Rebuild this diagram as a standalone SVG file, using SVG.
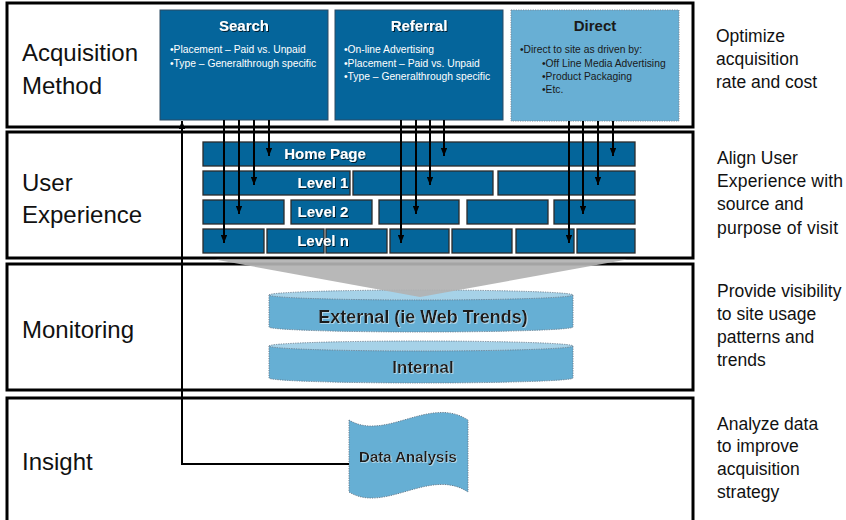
<svg xmlns="http://www.w3.org/2000/svg" width="846" height="520" viewBox="0 0 846 520">
<defs>
<style>
.band{fill:#fff;stroke:#000;stroke-width:3}
.dk{fill:#05659b;stroke:#2d4a63;stroke-width:1}
.lt{fill:#68afd4;stroke:#7a8a99;stroke-width:1;stroke-dasharray:1.2 1.2}
.blk{fill:#04659a;stroke:#2b2b2b;stroke-width:1.3}
.lbl{font-family:"Liberation Sans",Arial,sans-serif;font-size:24px;fill:#111}
.side{font-family:"Liberation Sans",Arial,sans-serif;font-size:17.5px;fill:#111}
.ttl{font-family:"Liberation Sans",Arial,sans-serif;font-size:15px;font-weight:bold;text-anchor:middle}
.bul{font-family:"Liberation Sans",Arial,sans-serif;font-size:10.3px}
.w{fill:#fff}
.d{fill:#1a1a1a}
.lev{font-family:"Liberation Sans",Arial,sans-serif;font-size:15px;font-weight:bold;fill:#fff;text-anchor:middle}
.cyl{font-family:"Liberation Sans",Arial,sans-serif;font-size:17px;font-weight:bold;fill:#1a1a1a;text-anchor:middle}
.cbody{fill:#66afd4;stroke:#6d7f8f;stroke-width:1;stroke-dasharray:1.2 1.2}
.ctop{fill:#a6d2e8;stroke:#6d7f8f;stroke-width:1;stroke-dasharray:1.2 1.2}
.con{fill:none;stroke:#000;stroke-width:2}
</style>
<filter id="sh" x="-10%" y="-30%" width="130%" height="160%">
<feDropShadow dx="1" dy="1" stdDeviation="0.6" flood-color="#000" flood-opacity="0.7"/>
</filter>
<filter id="shl" x="-10%" y="-30%" width="130%" height="160%">
<feDropShadow dx="0.8" dy="0.8" stdDeviation="0.5" flood-color="#fff" flood-opacity="0.6"/>
</filter>
<marker id="ah" viewBox="0 0 10 8" refX="10" refY="4" markerWidth="8" markerHeight="6.4" markerUnits="userSpaceOnUse" orient="auto">
<path d="M0,0 L10,4 L0,8 z" fill="#000"/>
</marker>
</defs>

<g id="bands">
<rect class="band" x="7" y="3" width="686" height="124"/>
<rect class="band" x="7" y="132" width="686" height="126"/>
<rect class="band" x="7" y="264" width="686" height="126"/>
<rect class="band" x="7" y="398" width="686" height="130"/>
</g>

<g id="stage-labels">
<text class="lbl" x="22" y="61">Acquisition</text>
<text class="lbl" x="22" y="94">Method</text>
<text class="lbl" x="22" y="191">User</text>
<text class="lbl" x="22" y="223">Experience</text>
<text class="lbl" x="22" y="338">Monitoring</text>
<text class="lbl" x="22" y="470">Insight</text>
</g>

<g id="goals">
<text class="side" x="716" y="42">Optimize</text>
<text class="side" x="716" y="65">acquisition</text>
<text class="side" x="716" y="88">rate and cost</text>
<text class="side" x="717" y="164">Align User</text>
<text class="side" x="717" y="187" textLength="126" lengthAdjust="spacing">Experience with</text>
<text class="side" x="717" y="210">source and</text>
<text class="side" x="717" y="234" textLength="121" lengthAdjust="spacing">purpose of visit</text>
<text class="side" x="717" y="297">Provide visibility</text>
<text class="side" x="717" y="320">to site usage</text>
<text class="side" x="717" y="343">patterns and</text>
<text class="side" x="717" y="366">trends</text>
<text class="side" x="717" y="430">Analyze data</text>
<text class="side" x="717" y="452">to improve</text>
<text class="side" x="717" y="475">acquisition</text>
<text class="side" x="717" y="498">strategy</text>
</g>

<g id="search">
<rect class="dk" x="160" y="10" width="168" height="110"/>
<text class="ttl w" x="244" y="31" filter="url(#sh)">Search</text>
<text class="bul w" x="170" y="53">•Placement – Paid vs. Unpaid</text>
<text class="bul w" x="170" y="67">•Type – Generalthrough specific</text>
</g>

<g id="referral">
<rect class="dk" x="335" y="10" width="168" height="110"/>
<text class="ttl w" x="419" y="31" filter="url(#sh)">Referral</text>
<text class="bul w" x="344" y="53">•On-line Advertising</text>
<text class="bul w" x="344" y="66.5">•Placement – Paid vs. Unpaid</text>
<text class="bul w" x="344" y="80">•Type – Generalthrough specific</text>
</g>

<g id="direct">
<rect class="lt" x="511" y="10" width="168" height="111"/>
<text class="ttl d" x="595" y="31">Direct</text>
<text class="bul d" x="520" y="53">•Direct to site as driven by:</text>
<text class="bul d" x="542" y="66.5">•Off Line Media Advertising</text>
<text class="bul d" x="542" y="80">•Product Packaging</text>
<text class="bul d" x="542" y="93">•Etc.</text>
</g>

<g id="home-page">
<rect class="blk" x="203" y="142" width="432" height="24"/>
<text class="lev" x="325" y="159" filter="url(#sh)">Home Page</text>
</g>

<g id="level-1">
<rect class="blk" x="203" y="171" width="147" height="24"/>
<rect class="blk" x="353" y="171" width="140" height="24"/>
<rect class="blk" x="498" y="171" width="137" height="24"/>
<text class="lev" x="323" y="188" filter="url(#sh)">Level 1</text>
</g>

<g id="level-2">
<rect class="blk" x="203" y="200" width="81" height="24"/>
<rect class="blk" x="291" y="200" width="81" height="24"/>
<rect class="blk" x="379" y="200" width="80" height="24"/>
<rect class="blk" x="467" y="200" width="81" height="24"/>
<rect class="blk" x="554" y="200" width="81" height="24"/>
<text class="lev" x="323" y="217" filter="url(#sh)">Level 2</text>
</g>

<g id="level-n">
<rect class="blk" x="203" y="229" width="61" height="24"/>
<rect class="blk" x="267" y="229" width="57" height="24"/>
<rect class="blk" x="326" y="229" width="61" height="24"/>
<rect class="blk" x="390" y="229" width="59" height="24"/>
<rect class="blk" x="452" y="229" width="60" height="24"/>
<rect class="blk" x="516" y="229" width="58" height="24"/>
<rect class="blk" x="577" y="229" width="58" height="24"/>
<text class="lev" x="323" y="246" filter="url(#sh)">Level n</text>
</g>

<g id="external">
<path class="cbody" d="M269,295 L269,327 A152,5 0 0 0 573,327 L573,295 Z"/>
<ellipse class="ctop" cx="421" cy="295" rx="152" ry="5"/>
<text class="cyl" x="423" y="323" style="font-size:18px" filter="url(#shl)">External (ie Web Trends)</text>
</g>

<g id="funnel">
<polygon points="215,259.5 627,259.5 420,297" fill="#b2b2b2" fill-opacity="0.92"/>
</g>

<g id="internal">
<path class="cbody" d="M269,346 L269,378 A152,5 0 0 0 573,378 L573,346 Z"/>
<ellipse class="ctop" cx="421" cy="346" rx="152" ry="5"/>
<text class="cyl" x="423" y="373" filter="url(#shl)">Internal</text>
</g>

<g id="data-analysis">
<path class="cbody" d="M349,420 C385,442 430,395 468,420 L468,492 C430,467 385,514 349,492 Z"/>
<text class="cyl" x="408" y="462" style="font-size:15px" filter="url(#shl)">Data Analysis</text>
</g>

<g id="connectors">
<line class="con" x1="224" y1="120" x2="224" y2="243" marker-end="url(#ah)"/>
<line class="con" x1="239" y1="120" x2="239" y2="214" marker-end="url(#ah)"/>
<line class="con" x1="254" y1="120" x2="254" y2="185" marker-end="url(#ah)"/>
<line class="con" x1="269" y1="120" x2="269" y2="156" marker-end="url(#ah)"/>
<line class="con" x1="401" y1="120" x2="401" y2="243" marker-end="url(#ah)"/>
<line class="con" x1="416" y1="120" x2="416" y2="214" marker-end="url(#ah)"/>
<line class="con" x1="430" y1="120" x2="430" y2="185" marker-end="url(#ah)"/>
<line class="con" x1="444" y1="120" x2="444" y2="156" marker-end="url(#ah)"/>
<line class="con" x1="569" y1="121" x2="569" y2="243" marker-end="url(#ah)"/>
<line class="con" x1="583" y1="121" x2="583" y2="214" marker-end="url(#ah)"/>
<line class="con" x1="598" y1="121" x2="598" y2="185" marker-end="url(#ah)"/>
<line class="con" x1="613" y1="121" x2="613" y2="156" marker-end="url(#ah)"/>
<polyline class="con" points="349,464 182,464 182,121" marker-end="url(#ah)"/>
</g>
</svg>
